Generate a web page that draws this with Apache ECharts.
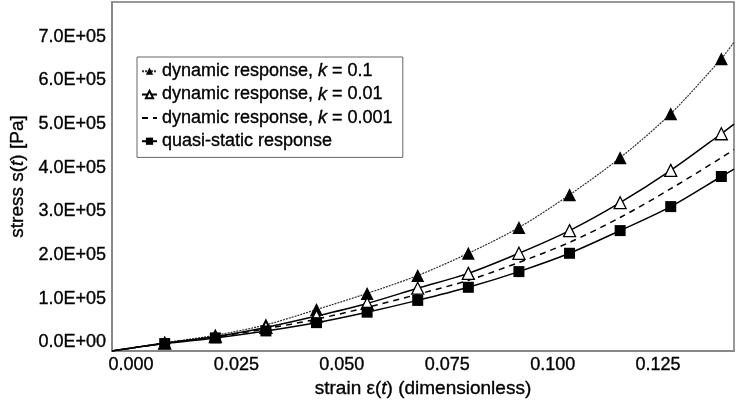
<!DOCTYPE html>
<html>
<head>
<meta charset="utf-8">
<script src="https://cdn.jsdelivr.net/npm/echarts@6/dist/echarts.min.js"></script>
<style>
  html, body { margin: 0; padding: 0; background: #fff; }
  #chart { width: 737px; height: 407px; }
</style>
</head>
<body>
<div id="chart"></div>
<script>
// strain values (first and last entries are where the curves leave the plot)
var strain = [-0.0045, 0.008, 0.020, 0.032, 0.044, 0.056, 0.068, 0.080, 0.092, 0.104, 0.116, 0.128, 0.140, 0.143]
// stress [Pa]
var dynK01 = [-20000, -1000, 16000, 40000, 75000, 112000, 153000, 204000, 263000, 338000, 423000, 524000, 650000, 688000]
var dynK001 = [-20000, -2000, 13000, 34000, 60000, 89000, 124000, 158000, 204000, 256000, 320000, 394000, 478000, 500000]
var dynK0001 = [-20000, -2000, 12000, 31000, 53000, 80000, 110000, 142000, 183000, 229000, 286000, 352000, 423000, 442000]
var quasiStatic = [-20000, -3000, 10000, 26000, 45000, 69000, 96000, 126000, 162000, 204000, 256000, 311000, 380000, 397000]
var xTicks = [0, 0.025, 0.05, 0.075, 0.1, 0.125]
var seriesNames = ['dynamic response, k = 0.1', 'dynamic response, k = 0.01', 'dynamic response, k = 0.001', 'quasi-static response']

var FONT = 'Liberation Sans'

function pairs (ys) {
  return strain.map(function (x, i) {
    var item = { value: [x, ys[i]] }
    if (i === 0 || i === strain.length - 1) item.symbol = 'none'
    return item
  })
}

function sci (v) {
  var s = v.toExponential(1).split('e')
  var e = parseInt(s[1], 10)
  var sign = e < 0 ? '-' : '+'
  var a = Math.abs(e)
  return s[0] + 'E' + sign + (a < 10 ? '0' + a : a)
}

function richSet (size) {
  var base = { fontFamily: FONT, fontSize: size, color: '#000', textBorderColor: '#000', textBorderWidth: 0.35 }
  return {
    n: base,
    i: Object.assign({}, base, { fontStyle: 'italic' })
  }
}

var chart = echarts.init(document.getElementById('chart'))
var option = {
  animation: false,
  backgroundColor: '#fff',
  grid: {
    left: 110,
    right: -2,
    top: 2,
    bottom: 56,
    show: true,
    borderColor: '#777',
    borderWidth: 1.5
  },
  legend: {
    orient: 'vertical',
    left: 137,
    top: 57,
    padding: [5, 10, 7, 4],
    itemGap: 5,
    itemWidth: 15,
    itemHeight: 9,
    borderColor: '#666',
    borderWidth: 1,
    backgroundColor: '#fff',
    data: [
      seriesNames[0],
      seriesNames[1],
      { name: seriesNames[2], itemStyle: { color: 'rgba(0,0,0,0)', borderWidth: 0 } },
      seriesNames[3]
    ],
    formatter: function (name) {
      var m = name.match(/^(.*), k = (.*)$/)
      if (!m) return '{n|' + name + '}'
      return '{n|' + m[1] + ', }{i|k}{n| = ' + m[2] + '}'
    },
    textStyle: { fontFamily: FONT, fontSize: 18, color: '#000', rich: richSet(18) }
  },
  xAxis: {
    type: 'value',
    min: -0.0045,
    max: 0.143,
    interval: 0.0005,
    name: '{n|strain ε(}{i|t}{n|) (dimensionless)}',
    nameLocation: 'middle',
    nameGap: 27,
    nameTextStyle: { rich: richSet(19) },
    axisLine: { onZero: false, lineStyle: { color: '#888', width: 2 } },
    axisTick: { show: false },
    splitLine: { show: false },
    axisLabel: {
      margin: 5,
      fontFamily: FONT,
      fontSize: 18,
      color: '#000',
      textBorderColor: '#000',
      textBorderWidth: 0.35,
      formatter: function (v) {
        for (var i = 0; i < xTicks.length; i++) {
          if (Math.abs(v - xTicks[i]) < 1e-7) return xTicks[i].toFixed(3)
        }
        return ''
      }
    }
  },
  yAxis: {
    type: 'value',
    min: -20000,
    max: 780000,
    interval: 20000,
    name: '{n|stress s(}{i|t}{n|) [Pa]}',
    nameLocation: 'middle',
    nameGap: 80,
    nameTextStyle: { rich: richSet(19) },
    axisLine: { onZero: false, lineStyle: { color: '#888', width: 2 } },
    axisTick: { show: false },
    splitLine: { show: false },
    axisLabel: {
      margin: 6,
      fontFamily: FONT,
      fontSize: 18,
      color: '#000',
      textBorderColor: '#000',
      textBorderWidth: 0.35,
      formatter: function (v) {
        if (Math.round(v) % 100000 !== 0) return ''
        return sci(v)
      }
    }
  },
  series: [
    {
      name: seriesNames[0],
      type: 'line',
      smooth: 0.3,
      data: pairs(dynK01),
      symbol: 'triangle',
      symbolSize: 13,
      color: '#000',
      itemStyle: { color: '#000' },
      lineStyle: { color: '#333', width: 1.2, type: [2, 1] }
    },
    {
      name: seriesNames[1],
      type: 'line',
      smooth: 0.3,
      data: pairs(dynK001),
      symbol: 'triangle',
      symbolSize: 12,
      color: '#000',
      itemStyle: { color: '#fff', borderColor: '#000', borderWidth: 1.3 },
      lineStyle: { color: '#000', width: 1.5 }
    },
    {
      name: seriesNames[2],
      type: 'line',
      smooth: 0.3,
      data: pairs(dynK0001),
      symbol: 'none',
      color: '#000',
      itemStyle: { color: '#000' },
      lineStyle: { color: '#000', width: 1.5, type: [6, 5] }
    },
    {
      name: seriesNames[3],
      type: 'line',
      smooth: 0.3,
      data: pairs(quasiStatic),
      symbol: 'rect',
      symbolSize: 11,
      color: '#000',
      itemStyle: { color: '#000' },
      lineStyle: { color: '#000', width: 1.5 }
    }
  ]
}
chart.setOption(option)
</script>
</body>
</html>
